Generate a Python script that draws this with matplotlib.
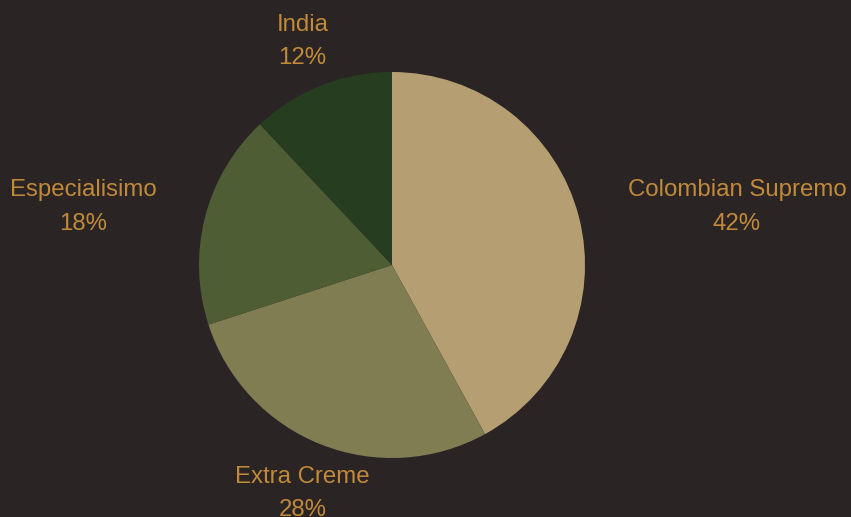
import numpy as np
import matplotlib
matplotlib.use("Agg")
import matplotlib.pyplot as plt

categories = ["Colombian Supremo", "Extra Creme", "Especialisimo", "India"]
values = [42, 28, 18, 12]
colors = ["#b59e72", "#817d53", "#4f5d35", "#273d20"]
bg = "#2a2424"
label_color = "#c08a3a"

W, H = 851, 517
fig = plt.figure(figsize=(W / 100, H / 100), dpi=100, facecolor=bg)
ax = fig.add_axes([0, 0, 1, 1])
ax.set_facecolor(bg)

cx, cy, r = 392, H - 265, 193
wedges, _ = ax.pie(values, colors=colors, startangle=90, counterclock=False,
                   center=(cx, cy), radius=r, frame=True,
                   wedgeprops=dict(linewidth=0))

total = sum(values)
for w, name, v in zip(wedges, categories, values):
    mid = np.deg2rad((w.theta1 + w.theta2) / 2)
    d = r * 1.26
    x = cx + d * np.cos(mid)
    y = cy + d * np.sin(mid) - 2.5
    c = np.cos(mid)
    ha = "left" if c > 0.5 else ("right" if c < -0.5 else "center")
    ax.text(x, y, f"{name}\n{round(v / total * 100)}%", ha=ha, va="center",
            multialignment="center", color=label_color, fontsize=17.3,
            family=["Liberation Sans", "DejaVu Sans"], linespacing=1.66)

ax.set_xlim(0, W)
ax.set_ylim(0, H)
ax.set_aspect("equal")
ax.axis("off")
fig.savefig("out.png", dpi=100, facecolor=bg)
